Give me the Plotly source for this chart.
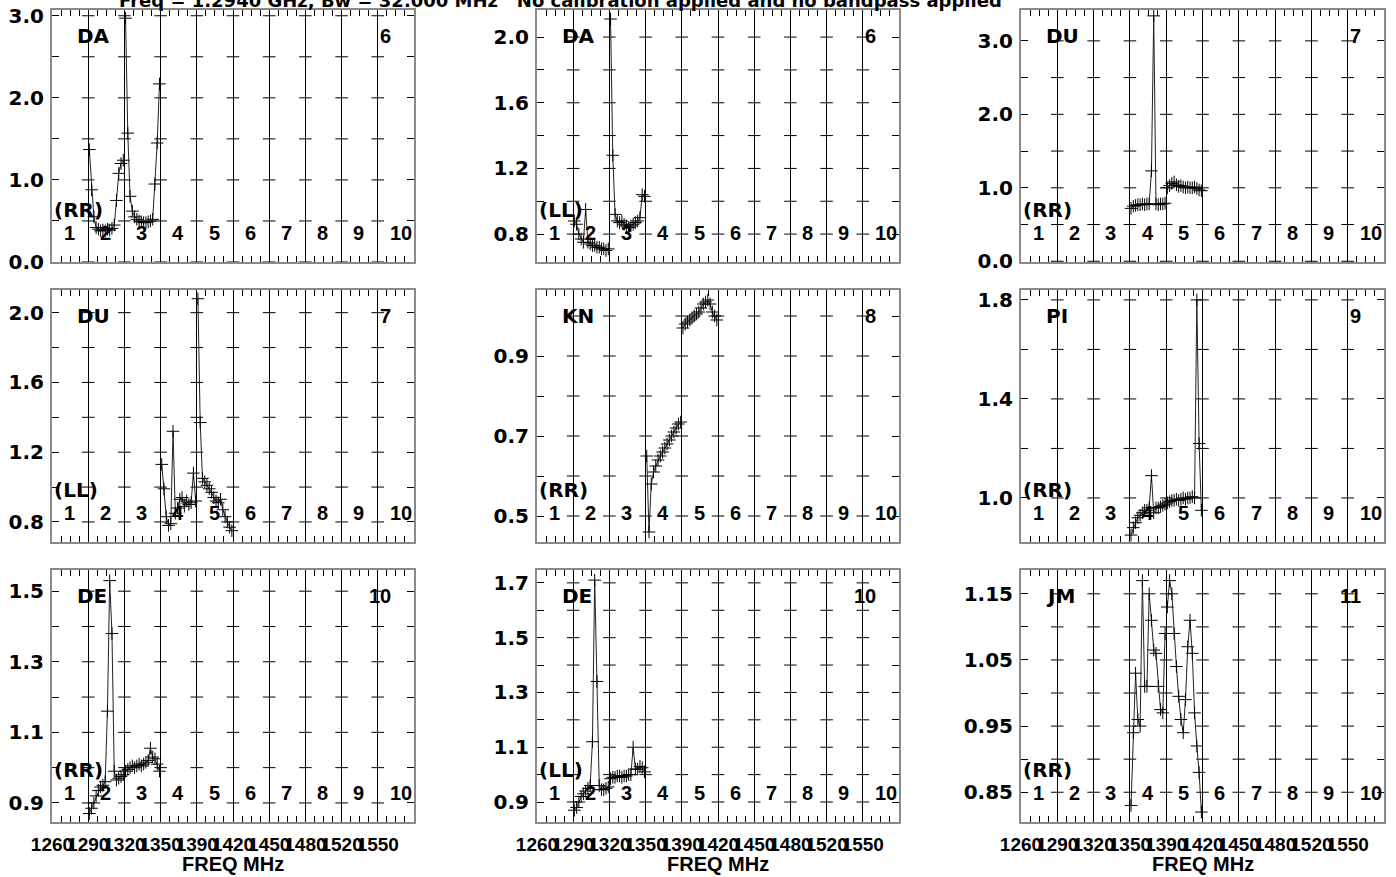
import plotly.graph_objects as go
import math

# ---------------- frequency / IF setup ----------------
IF_START_MHZ = 1262.0
IF_BW_MHZ = 32.0
N_IF = 10
N_CHAN = 16
freq_tick_labels = ["1260", "1290", "1320", "1350", "1390", "1420", "1450", "1480", "1520", "1550"]
if_labels = ["1", "2", "3", "4", "5", "6", "7", "8", "9", "10"]
title_text = "Freq = 1.2940 GHz, Bw = 32.000 MHz   No calibration applied and no bandpass applied"

# ---------------- amplitude data (per IF, 16 channels) ----------------
da_rr_if2 = [1.37, 0.88, 0.55, 0.42, 0.40, 0.38, 0.39, 0.38, 0.40, 0.39, 0.41, 0.45, 0.75, 1.08, 1.20, 1.24]
da_rr_if3 = [2.97, 1.57, 0.80, 0.62, 0.55, 0.52, 0.50, 0.49, 0.48, 0.48, 0.49, 0.50, 0.52, 0.95, 1.45, 2.17]

da_ll_if2 = [0.88, 0.86, 0.80, 0.77, 0.75, 0.95, 0.75, 0.74, 0.73, 0.73, 0.72, 0.72, 0.71, 0.71, 0.70, 0.71]
da_ll_if3 = [2.11, 1.28, 0.92, 0.88, 0.87, 0.88, 0.86, 0.85, 0.84, 0.85, 0.86, 0.87, 0.88, 0.90, 1.04, 1.03]

du_rr_if4 = [0.72, 0.75, 0.76, 0.77, 0.77, 0.78, 0.77, 0.78, 0.78, 1.23, 3.34, 0.78, 0.77, 0.78, 0.78, 0.79]
du_rr_if5 = [1.00, 1.03, 1.06, 1.08, 1.04, 1.02, 1.03, 1.01, 1.00, 1.01, 1.00, 1.00, 1.01, 0.99, 0.97, 0.96]

du_ll_if4 = [1.13, 0.99, 0.83, 0.78, 0.79, 1.32, 0.85, 0.88, 0.93, 0.94, 0.89, 0.92, 0.90, 0.91, 1.08, 0.92]
du_ll_if5 = [2.08, 1.37, 1.05, 1.03, 1.01, 0.99, 0.97, 0.94, 0.92, 0.91, 0.93, 0.87, 0.83, 0.80, 0.77, 0.75]

kn_rr_if4 = [0.65, 0.46, 0.58, 0.61, 0.625, 0.64, 0.65, 0.66, 0.67, 0.68, 0.69, 0.70, 0.71, 0.72, 0.73, 0.735]
kn_rr_if5 = [0.97, 0.98, 0.985, 0.99, 0.995, 1.00, 1.005, 1.01, 1.02, 1.03, 1.035, 1.04, 1.03, 1.01, 1.00, 0.99]

pi_rr_if4 = [0.85, 0.88, 0.90, 0.92, 0.93, 0.94, 0.95, 0.95, 0.96, 1.09, 0.94, 0.96, 0.96, 0.965, 0.97, 0.975]
pi_rr_if5 = [0.98, 0.985, 0.99, 0.99, 0.995, 0.99, 0.995, 1.00, 0.995, 1.00, 1.00, 1.005, 1.00, 1.80, 1.22, 0.95]

de_rr_if2 = [0.87, 0.885, 0.90, 0.92, 0.935, 0.945, 0.95, 0.96, 1.16, 1.53, 1.38, 0.99, 0.965, 0.97, 0.975, 0.98]
de_rr_if3 = [0.99, 0.995, 1.00, 1.005, 1.00, 1.005, 1.01, 1.005, 1.01, 1.015, 1.02, 1.055, 1.03, 1.025, 1.01, 0.99]

de_ll_if2 = [0.87, 0.88, 0.90, 0.92, 0.93, 0.94, 0.95, 0.96, 1.12, 1.71, 1.34, 0.96, 0.945, 0.945, 0.95, 0.955]
de_ll_if3 = [0.985, 0.99, 0.99, 0.995, 0.995, 0.99, 0.995, 0.995, 1.00, 1.00, 1.10, 1.02, 1.02, 1.03, 1.025, 1.01]

jm_rr_if4 = [0.83, 0.94, 1.03, 0.96, 0.95, 1.17, 1.01, 1.01, 1.15, 1.11, 1.065, 1.06, 1.01, 0.975, 0.97, 1.09]
jm_rr_if5 = [1.13, 1.17, 1.15, 1.09, 1.04, 0.995, 0.96, 0.94, 0.99, 1.07, 1.11, 1.06, 0.97, 0.92, 0.88, 0.82]

panels = [
    dict(ant="DA", bl="6", pol="(RR)", yr=[0.0, 3.07], yt=[0.0, 1.0, 2.0, 3.0], fmt=".1f", minor=0.5,
         data={2: da_rr_if2, 3: da_rr_if3}),
    dict(ant="DA", bl="6", pol="(LL)", yr=[0.63, 2.165], yt=[0.8, 1.2, 1.6, 2.0], fmt=".1f", minor=0.2,
         data={2: da_ll_if2, 3: da_ll_if3}),
    dict(ant="DU", bl="7", pol="(RR)", yr=[-0.01, 3.42], yt=[0.0, 1.0, 2.0, 3.0], fmt=".1f", minor=0.5,
         data={4: du_rr_if4, 5: du_rr_if5}),
    dict(ant="DU", bl="7", pol="(LL)", yr=[0.685, 2.13], yt=[0.8, 1.2, 1.6, 2.0], fmt=".1f", minor=0.2,
         data={4: du_ll_if4, 5: du_ll_if5}),
    dict(ant="KN", bl="8", pol="(RR)", yr=[0.435, 1.065], yt=[0.5, 0.7, 0.9], fmt=".1f", minor=0.1,
         data={4: kn_rr_if4, 5: kn_rr_if5}),
    dict(ant="PI", bl="9", pol="(RR)", yr=[0.822, 1.84], yt=[1.0, 1.4, 1.8], fmt=".1f", minor=0.2,
         data={4: pi_rr_if4, 5: pi_rr_if5}),
    dict(ant="DE", bl="10", pol="(RR)", yr=[0.846, 1.56], yt=[0.9, 1.1, 1.3, 1.5], fmt=".1f", minor=0.1,
         data={2: de_rr_if2, 3: de_rr_if3}),
    dict(ant="DE", bl="10", pol="(LL)", yr=[0.827, 1.747], yt=[0.9, 1.1, 1.3, 1.5, 1.7], fmt=".1f", minor=0.1,
         data={2: de_ll_if2, 3: de_ll_if3}),
    dict(ant="JM", bl="11", pol="(RR)", yr=[0.805, 1.186], yt=[0.85, 0.95, 1.05, 1.15], fmt=".2f", minor=0.05,
         data={4: jm_rr_if4, 5: jm_rr_if5}),
]

# ---------------- page geometry (pixels) ----------------
W, H = 1396, 877
col_x = [(52, 414), (537, 899), (1021, 1384)]
row_y = [(10, 262), (290, 542), (570, 822)]

FONT = "Liberation Sans, Arial, sans-serif"
WIDE = "DejaVu Sans, Liberation Sans, sans-serif"
FRAME = "#8a8a8a"

fig = go.Figure()
layout = dict(width=W, height=H, margin=dict(l=0, r=0, t=0, b=0, autoexpand=False), autosize=False,
              paper_bgcolor="white", plot_bgcolor="white", showlegend=False)
annotations = []

boundaries = [IF_START_MHZ + IF_BW_MHZ * k for k in range(N_IF + 1)]


def bold(s):
    return "<b>" + s + "</b>"


for n, p in enumerate(panels):
    r, c = divmod(n, 3)
    sx = "" if n == 0 else str(n + 1)
    xa, ya = "x" + sx, "y" + sx
    x0, x1 = col_x[c]
    y0, y1 = row_y[r]
    bottom_row = (r == 2)

    layout["xaxis" + sx] = dict(
        domain=[x0 / W, x1 / W], anchor=ya, range=[boundaries[0], boundaries[-1]],
        tickmode="array", tickvals=boundaries[:-1], ticktext=[bold(t) for t in freq_tick_labels],
        showticklabels=bottom_row, tickangle=0, automargin=False, ticklabelstandoff=4,
        ticks="inside", ticklen=6, tickcolor="black",
        showgrid=True, gridcolor="black", gridwidth=1, zeroline=False,
        showline=True, linecolor=FRAME, linewidth=2, mirror="ticks",
        minor=dict(tick0=IF_START_MHZ, dtick=IF_BW_MHZ / 4, ticks="inside", ticklen=6,
                   tickcolor="black", showgrid=False),
        tickfont=dict(family=FONT, size=19, color="black"),
        fixedrange=True,
    )
    layout["yaxis" + sx] = dict(
        domain=[1 - y1 / H, 1 - y0 / H], anchor=xa, range=p["yr"],
        tickmode="array", tickvals=p["yt"], ticktext=[bold(format(v, p["fmt"])) for v in p["yt"]],
        automargin=False, ticklabelstandoff=2,
        ticks="inside", ticklen=7, tickcolor="black", showgrid=False, zeroline=False,
        showline=True, linecolor=FRAME, linewidth=2, mirror="ticks",
        minor=dict(tick0=0, dtick=p["minor"], ticks="inside", ticklen=7, tickcolor="black", showgrid=False),
        tickfont=dict(family=WIDE, size=20, color="black"),
        fixedrange=True,
    )

    # small horizontal tick marks on every IF separator line
    lo, hi = p["yr"]
    step = p["minor"]
    k0 = math.ceil(lo / step - 1e-9)
    k1 = math.floor(hi / step + 1e-9)
    tick_ys = [round(k * step, 6) for k in range(k0, k1 + 1)]
    tx, ty = [], []
    for b in boundaries[1:-1]:
        for yv in tick_ys:
            tx.append(b)
            ty.append(yv)
    fig.add_trace(go.Scatter(x=tx, y=ty, xaxis=xa, yaxis=ya, mode="markers",
                             marker=dict(symbol="line-ew", size=9, line=dict(width=1, color="black")),
                             hoverinfo="skip"))

    # data: channels of each IF, lines joined within the IF
    xs, ys = [], []
    for ifn, vals in p["data"].items():
        base = IF_START_MHZ + IF_BW_MHZ * (ifn - 1)
        chw = IF_BW_MHZ / N_CHAN
        for i, v in enumerate(vals):
            xs.append(base + chw * (i + 0.5))
            ys.append(v)
        xs.append(None)
        ys.append(None)
    fig.add_trace(go.Scatter(x=xs, y=ys, xaxis=xa, yaxis=ya, mode="lines+markers",
                             line=dict(color="#222222", width=1),
                             marker=dict(symbol="cross-thin", size=9, line=dict(width=1, color="black")),
                             hoverinfo="skip"))

    # panel annotations
    numfont = dict(family=FONT, size=20, color="black")
    namefont = dict(family=WIDE, size=20, color="black")
    xd, yd = xa + " domain", ya + " domain"
    annotations.append(dict(text=bold(p["ant"]), x=23 / 363, y=1 - 26 / 252, xref=xd, yref=yd,
                            xanchor="left", yanchor="middle", showarrow=False, font=namefont))
    annotations.append(dict(text=bold(p["bl"]), x=342 / 363, y=1 - 26 / 252, xref=xd, yref=yd,
                            xanchor="right", yanchor="middle", showarrow=False, font=numfont))
    annotations.append(dict(text=bold(p["pol"]), x=0.0, y=52 / 252, xref=xd, yref=yd,
                            xanchor="left", yanchor="middle", showarrow=False, font=namefont))
    for k, lab in enumerate(if_labels):
        annotations.append(dict(text=bold(lab), x=(k + 0.27) / N_IF, y=29 / 252, xref=xd, yref=yd,
                                xanchor="left", yanchor="middle", showarrow=False, font=numfont))
    if bottom_row:
        annotations.append(dict(text=bold("FREQ MHz"), x=0.5, y=1 - 864 / H, xref=xd, yref="paper",
                                xanchor="center", yanchor="middle", showarrow=False,
                                font=dict(family=FONT, size=20, color="black")))

annotations.append(dict(text=bold(title_text), x=117 / W, y=1.0, xref="paper", yref="paper",
                        xanchor="left", yanchor="middle", showarrow=False,
                        font=dict(family=WIDE, size=18, color="black")))

layout["annotations"] = annotations
fig.update_layout(**layout)

fig.write_html("out.html", config={"displayModeBar": False},
               post_script="document.body.style.margin='0';")
